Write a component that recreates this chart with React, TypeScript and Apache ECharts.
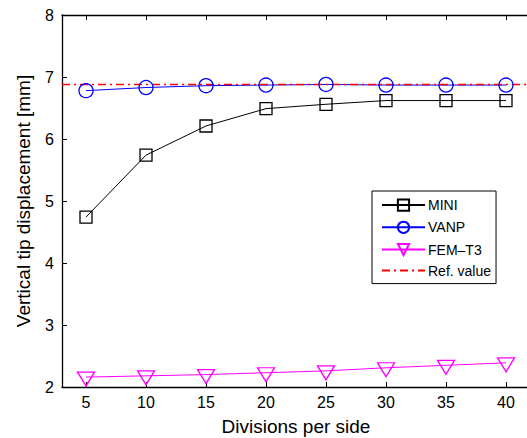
import React, { useEffect, useRef } from "react";
import * as echarts from "echarts";

// Mesh refinement: divisions per side
const divisions = [5, 10, 15, 20, 25, 30, 35, 40];
// Vertical tip displacement [mm]
const miniValues = [4.74, 5.74, 6.21, 6.49, 6.56, 6.62, 6.62, 6.62];
const vanpValues = [6.78, 6.83, 6.86, 6.87, 6.88, 6.87, 6.87, 6.87];
const femT3Values = [2.16, 2.18, 2.2, 2.23, 2.26, 2.31, 2.35, 2.39];
const refValue = 6.88;
const xRange = [3, 42];
const yTicks = [2, 3, 4, 5, 6, 7, 8];

const FONT = "'Liberation Sans', Arial, Helvetica, sans-serif";

export default function App() {
  const ref = useRef<HTMLDivElement>(null);

  useEffect(() => {
    document.body.style.margin = "0";
    const chart = echarts.init(ref.current!, null, { renderer: "svg" });

    const pairs = (vals: number[]) => divisions.map((d, i) => [d, vals[i]]);

    chart.setOption({
      animation: false,
      backgroundColor: "#fff",
      textStyle: { fontFamily: FONT },
      grid: { left: 62, right: -3, top: 15, bottom: 51, outerBoundsMode: "none", containLabel: false },
      legend: {
        orient: "vertical",
        left: 372,
        top: 191,
        itemWidth: 43,
        itemHeight: 14,
        itemGap: 6,
        padding: [6, 5, 6, 9],
        borderColor: "#000",
        borderWidth: 1,
        backgroundColor: "#fff",
        textStyle: { fontFamily: FONT, fontSize: 14, color: "#000", padding: [0, 0, 0, -2] },
        data: ["MINI", "VANP", "FEM\u2013T3", "Ref. value"],
      },
      xAxis: [
        {
          type: "value",
          min: xRange[0],
          max: xRange[1],
          name: "Divisions per side",
          nameLocation: "middle",
          nameGap: 30,
          nameTextStyle: { fontFamily: FONT, fontSize: 19, color: "#000" },
          axisLine: { lineStyle: { color: "#000", width: 1.3 } },
          axisTick: { inside: true, length: 5, customValues: divisions, lineStyle: { color: "#000" } },
          axisLabel: { customValues: divisions, fontSize: 16, color: "#000", margin: 7, fontFamily: FONT },
          splitLine: { show: false },
        },
        {
          type: "value",
          position: "top",
          min: xRange[0],
          max: xRange[1],
          axisLine: { lineStyle: { color: "#000", width: 1.3 } },
          axisTick: { inside: true, length: 5, customValues: divisions, lineStyle: { color: "#000" } },
          axisLabel: { show: false },
          splitLine: { show: false },
        },
      ],
      yAxis: {
        type: "value",
        min: yTicks[0],
        max: yTicks[yTicks.length - 1],
        interval: 1,
        name: "Vertical tip displacement [mm]",
        nameLocation: "middle",
        nameGap: 29,
        nameTextStyle: { fontFamily: FONT, fontSize: 19, color: "#000" },
        axisLine: { show: true, lineStyle: { color: "#000", width: 1.3 } },
        axisTick: { show: true, inside: true, length: 5, lineStyle: { color: "#000" } },
        axisLabel: { fontSize: 16, color: "#000", margin: 8, fontFamily: FONT },
        splitLine: { show: false },
      },
      series: [
        {
          name: "MINI",
          type: "line",
          data: pairs(miniValues),
          symbol: "rect",
          symbolSize: 12,
          lineStyle: { color: "#000", width: 1 },
          itemStyle: { color: "none", borderColor: "#000", borderWidth: 1.3 },
        },
        {
          name: "VANP",
          type: "line",
          data: pairs(vanpValues),
          symbol: "circle",
          symbolSize: 14,
          lineStyle: { color: "#0000ff", width: 1 },
          itemStyle: { color: "none", borderColor: "#0000ff", borderWidth: 1.3 },
        },
        {
          name: "FEM\u2013T3",
          type: "line",
          data: pairs(femT3Values),
          symbol: "triangle",
          symbolRotate: 180,
          symbolSize: [17, 14],
          symbolOffset: [0, 2],
          lineStyle: { color: "#ff00ff", width: 1 },
          itemStyle: { color: "none", borderColor: "#ff00ff", borderWidth: 1.3 },
        },
        {
          name: "Ref. value",
          type: "line",
          data: [
            [xRange[0], refValue],
            [xRange[1], refValue],
          ],
          symbol: "none",
          lineStyle: { color: "#ff0000", width: 1.5, type: [8, 4, 2, 4] },
          itemStyle: { color: "none", borderColor: "none", borderWidth: 0 },
        },
      ],
    });

    return () => chart.dispose();
  }, []);

  return <div ref={ref} style={{ width: 527, height: 438 }} />;
}
